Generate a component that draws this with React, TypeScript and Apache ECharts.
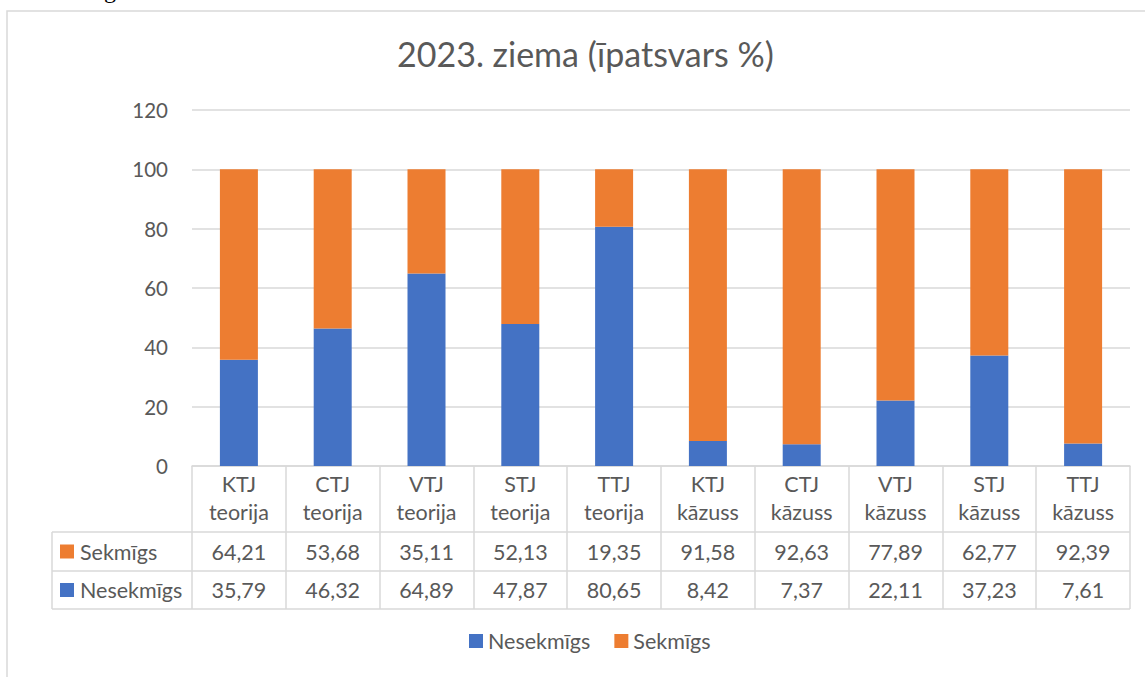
import React, { useEffect, useRef } from "react";
import * as echarts from "echarts";

const titleText = "2023. ziema (īpatsvars %)";
const categories = [
  "KTJ\nteorija",
  "CTJ\nteorija",
  "VTJ\nteorija",
  "STJ\nteorija",
  "TTJ\nteorija",
  "KTJ\nkāzuss",
  "CTJ\nkāzuss",
  "VTJ\nkāzuss",
  "STJ\nkāzuss",
  "TTJ\nkāzuss",
];
const nesekmigs = [35.79, 46.32, 64.89, 47.87, 80.65, 8.42, 7.37, 22.11, 37.23, 7.61];
const sekmigs = [64.21, 53.68, 35.11, 52.13, 19.35, 91.58, 92.63, 77.89, 62.77, 92.39];
const seriesNames = ["Nesekmīgs", "Sekmīgs"];
const yMin = 0;
const yMax = 120;
const yStep = 20;

const BLUE = "#4472C4";
const ORANGE = "#ED7D31";
const TEXT = "#595959";
const LINE = "#D9D9D9";
const FONT = "Lato, 'Noto Sans', sans-serif";
const FS = 21.5;

const fmt = (v: number) => v.toFixed(2).replace(".", ",");

export default function App() {
  const ref = useRef<HTMLDivElement>(null);
  useEffect(() => {
    document.body.style.margin = "0";
    const chart = echarts.init(ref.current!, undefined, { renderer: "svg" });
    const gridLeft = 192;
    const gridRight = 1130;
    const gridTop = 110;
    const gridBottom = 466;
    const tableLeft = 52;
    const row1 = 532;
    const row2 = 571;
    const row3 = 609;

    chart.setOption({
      animation: false,
      textStyle: { fontFamily: FONT },
      title: {
        text: titleText,
        left: 392,
        top: 31,
        textStyle: { fontSize: 34, fontWeight: "normal", color: TEXT, fontFamily: FONT },
      },
      legend: {
        bottom: 677 - 657,
        left: 464,
        icon: "rect",
        itemWidth: 14,
        itemHeight: 14,
        itemGap: 24,
        data: seriesNames,
        textStyle: { fontSize: FS, color: TEXT, fontFamily: FONT },
      },
      grid: {
        left: gridLeft,
        right: 1145 - gridRight,
        top: gridTop,
        bottom: 677 - gridBottom,
        containLabel: false,
      },
      xAxis: {
        type: "category",
        data: categories,
        axisLine: { show: true, lineStyle: { color: LINE, width: 1.5 } },
        axisTick: { show: true, length: row3 - gridBottom, lineStyle: { color: LINE, width: 1.5 } },
        axisLabel: {
          color: TEXT,
          fontSize: FS,
          lineHeight: 28,
          margin: 4,
          fontFamily: FONT,
        },
      },
      yAxis: {
        type: "value",
        min: yMin,
        max: yMax,
        interval: yStep,
        axisLine: { show: false },
        axisTick: { show: false },
        axisLabel: { color: TEXT, fontSize: 20.5, margin: 24, fontFamily: FONT },
        splitLine: { lineStyle: { color: LINE, width: 1.5 } },
      },
      series: [
        {
          name: seriesNames[0],
          type: "bar",
          stack: "total",
          barWidth: 38,
          data: nesekmigs,
          itemStyle: { color: BLUE },
        },
        {
          name: seriesNames[1],
          type: "bar",
          stack: "total",
          barWidth: 38,
          data: sekmigs,
          itemStyle: { color: ORANGE },
        },
      ],
    });

    const cellY1 = (row1 + row2) / 2;
    const cellY2 = (row2 + row3) / 2;
    const graphics: any[] = [
      {
        type: "rect",
        shape: { x: 7, y: 11, width: 1200, height: 800 },
        style: { fill: "none", stroke: LINE, lineWidth: 1.5 },
        silent: true,
      },
      {
        type: "text",
        x: 104,
        y: -22,
        style: { text: "g", fontFamily: "'Liberation Serif', serif", fontSize: 24, fill: "#000" },
      },
    ];
    [row1, row2, row3].forEach((y) => {
      graphics.push({
        type: "line",
        shape: { x1: tableLeft, y1: y, x2: gridRight, y2: y },
        style: { stroke: LINE, lineWidth: 1.5 },
      });
    });
    graphics.push({
      type: "line",
      shape: { x1: tableLeft, y1: row1, x2: tableLeft, y2: row3 },
      style: { stroke: LINE, lineWidth: 1.5 },
    });
    const rows = [
      { name: seriesNames[1], color: ORANGE, data: sekmigs, y: cellY1 },
      { name: seriesNames[0], color: BLUE, data: nesekmigs, y: cellY2 },
    ];
    rows.forEach((r) => {
      graphics.push({
        type: "rect",
        shape: { x: 60, y: r.y - 7, width: 14, height: 14 },
        style: { fill: r.color },
      });
      graphics.push({
        type: "text",
        x: 80,
        y: r.y,
        style: {
          text: r.name,
          fontSize: FS,
          fontFamily: FONT,
          fill: TEXT,
          verticalAlign: "middle",
          align: "left",
        },
      });
      r.data.forEach((v, i) => {
        const px = chart.convertToPixel({ xAxisIndex: 0 }, i) as number;
        graphics.push({
          type: "text",
          x: px,
          y: r.y,
          style: {
            text: fmt(v),
            fontSize: FS,
            fontFamily: FONT,
            fill: TEXT,
            align: "center",
            verticalAlign: "middle",
          },
        });
      });
    });
    chart.setOption({ graphic: graphics });

    return () => chart.dispose();
  }, []);
  return <div ref={ref} style={{ width: 1145, height: 677 }} />;
}
